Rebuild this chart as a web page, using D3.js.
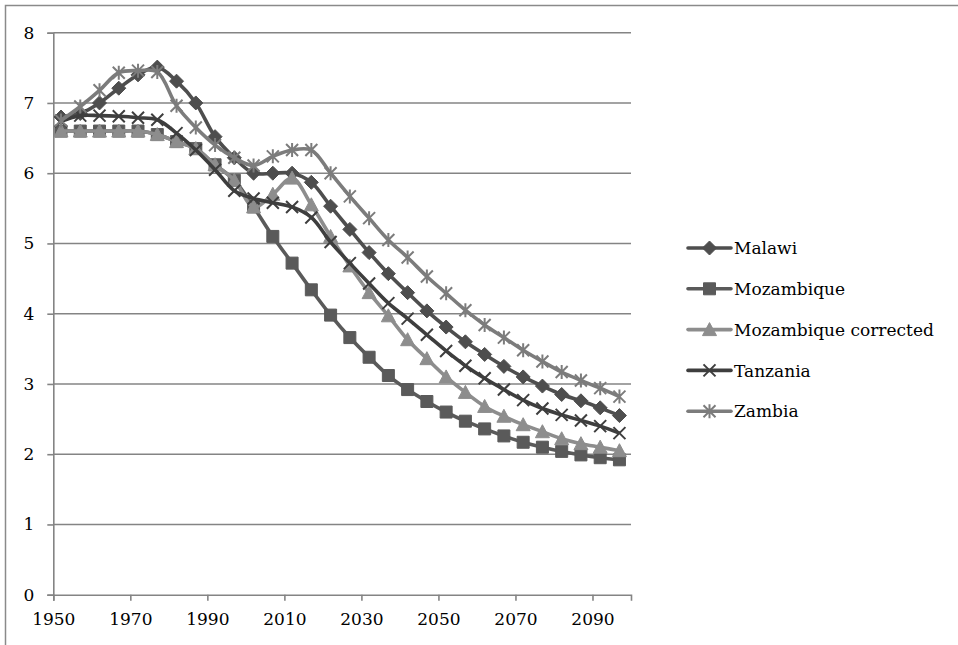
<!DOCTYPE html>
<html>
<head>
<meta charset="utf-8">
<script src="https://cdn.jsdelivr.net/npm/d3@7"></script>
<style>
  html, body { margin: 0; padding: 0; background: #fff; }
  svg { display: block; font-family: "DejaVu Serif", serif; }
</style>
</head>
<body>
<svg id="chart" width="958" height="645"></svg>
<script>
// Total fertility rate, five-year periods (period midpoints)
const years = [1952, 1957, 1962, 1967, 1972, 1977, 1982, 1987, 1992, 1997,
               2002, 2007, 2012, 2017, 2022, 2027, 2032, 2037, 2042, 2047,
               2052, 2057, 2062, 2067, 2072, 2077, 2082, 2087, 2092, 2097];

const malawi = [6.80, 6.85, 7.00, 7.21, 7.40, 7.51, 7.31, 7.00, 6.52, 6.22,
                6.00, 6.00, 6.00, 5.87, 5.53, 5.20, 4.87, 4.57, 4.30, 4.04,
                3.81, 3.60, 3.42, 3.25, 3.10, 2.97, 2.85, 2.76, 2.66, 2.55];

const mozambique = [6.60, 6.60, 6.60, 6.60, 6.60, 6.55, 6.45, 6.35, 6.12, 5.90,
                    5.52, 5.10, 4.72, 4.34, 3.98, 3.66, 3.38, 3.12, 2.92, 2.75,
                    2.60, 2.47, 2.36, 2.26, 2.17, 2.10, 2.04, 1.99, 1.95, 1.92];

const mozambiqueCorrected = [6.60, 6.60, 6.60, 6.60, 6.60, 6.55, 6.45, 6.35, 6.12, 5.90,
                             5.52, 5.70, 5.93, 5.55, 5.10, 4.68, 4.30, 3.97, 3.63, 3.36,
                             3.10, 2.88, 2.68, 2.54, 2.42, 2.32, 2.22, 2.15, 2.10, 2.05];

const tanzania = [6.74, 6.82, 6.82, 6.81, 6.79, 6.76, 6.57, 6.33, 6.05, 5.75,
                  5.64, 5.58, 5.52, 5.37, 5.02, 4.72, 4.43, 4.15, 3.93, 3.70,
                  3.47, 3.26, 3.08, 2.92, 2.77, 2.65, 2.56, 2.48, 2.40, 2.30];

const zambia = [6.75, 6.95, 7.18, 7.43, 7.46, 7.44, 6.96, 6.65, 6.40, 6.22,
                6.11, 6.24, 6.33, 6.33, 6.00, 5.67, 5.36, 5.05, 4.80, 4.53,
                4.29, 4.05, 3.84, 3.66, 3.48, 3.32, 3.17, 3.05, 2.94, 2.82];

const seriesNames = ["Malawi", "Mozambique", "Mozambique corrected", "Tanzania", "Zambia"];
const seriesValues = [malawi, mozambique, mozambiqueCorrected, tanzania, zambia];
const seriesColors = ["#4e4e4e", "#5a5a5a", "#8d8d8d", "#3e3e3e", "#7c7c7c"];
const seriesMarkers = ["diamond", "square", "triangle", "cross", "star"];

const yTicks = [0, 1, 2, 3, 4, 5, 6, 7, 8];
const xTicks = [1950, 1970, 1990, 2010, 2030, 2050, 2070, 2090];

const svg = d3.select("#chart");
const W = 958, H = 645;

svg.append("rect").attr("width", W).attr("height", H).attr("fill", "#fff");

// outer chart frame
svg.append("path")
  .attr("d", "M5.5,650 L5.5,5.5 L965,5.5")
  .attr("fill", "none").attr("stroke", "#8a8a8a").attr("stroke-width", 1.5);

const plot = { left: 53.3, right: 631, top: 32.7, bottom: 594.7 };

const x = d3.scaleLinear().domain([1950, 2100]).range([plot.left, plot.right]);
const y = d3.scaleLinear().domain([0, 8]).range([plot.bottom, plot.top]);

// horizontal gridlines
svg.append("g").selectAll("line")
  .data(yTicks.filter(d => d > 0))
  .join("line")
  .attr("x1", plot.left).attr("x2", plot.right)
  .attr("y1", d => y(d)).attr("y2", d => y(d))
  .attr("stroke", "#848484").attr("stroke-width", 1.6);

// y axis
const yAxis = svg.append("g")
  .attr("transform", `translate(${plot.left},0)`)
  .call(d3.axisLeft(y).tickValues(yTicks).tickSize(6).tickPadding(13).tickFormat(d3.format("d")));
yAxis.select(".domain").attr("stroke", "#848484").attr("stroke-width", 1.6);
yAxis.selectAll(".tick line").attr("stroke", "#848484").attr("stroke-width", 1.6);
yAxis.selectAll(".tick text")
  .attr("fill", "#000").attr("font-size", 17).attr("font-family", "DejaVu Serif, serif");

// x axis
const xAxis = svg.append("g")
  .attr("transform", `translate(0,${plot.bottom})`)
  .call(d3.axisBottom(x).tickValues(xTicks).tickSize(6).tickPadding(12).tickFormat(d3.format("d")));
xAxis.select(".domain").attr("stroke", "#848484").attr("stroke-width", 1.6);
xAxis.selectAll(".tick line").attr("stroke", "#848484").attr("stroke-width", 1.6);
xAxis.selectAll(".tick text")
  .attr("fill", "#000").attr("font-size", 17).attr("font-family", "DejaVu Serif, serif");

// marker shapes
function markerPath(kind) {
  switch (kind) {
    case "diamond": return "M0,-7 L7,0 L0,7 L-7,0 Z";
    case "square": return "M-6,-6 L6,-6 L6,6 L-6,6 Z";
    case "triangle": return "M0,-7 L7,6 L-7,6 Z";
    case "cross": return "M-6,-6 L6,6 M-6,6 L6,-6";
    case "star": return "M-6,-6 L6,6 M-6,6 L6,-6 M0,-7 L0,7";
  }
}
function drawMarker(g, kind, color) {
  const filled = kind === "diamond" || kind === "square" || kind === "triangle";
  g.append("path")
    .attr("d", markerPath(kind))
    .attr("fill", filled ? color : "none")
    .attr("stroke", color)
    .attr("stroke-width", filled ? 1 : 2)
    .attr("stroke-linejoin", "miter");
}

const line = d3.line()
  .x(d => x(d[0]))
  .y(d => y(d[1]))
  .curve(d3.curveCatmullRom.alpha(0.5));

const seriesG = svg.append("g");
seriesValues.forEach((vals, si) => {
  const pts = years.map((yr, i) => [yr, vals[i]]);
  const g = seriesG.append("g");
  g.append("path")
    .attr("d", line(pts))
    .attr("fill", "none")
    .attr("stroke", seriesColors[si])
    .attr("stroke-width", 3.6)
    .attr("stroke-linejoin", "round");
  g.selectAll("g.m").data(pts).join("g")
    .attr("class", "m")
    .attr("transform", d => `translate(${x(d[0])},${y(d[1])})`)
    .each(function () { drawMarker(d3.select(this), seriesMarkers[si], seriesColors[si]); });
});

// legend
const legend = svg.append("g").attr("transform", "translate(688,248)");
seriesNames.forEach((name, si) => {
  const g = legend.append("g").attr("transform", `translate(0,${si * 40.8})`);
  g.append("line")
    .attr("x1", 0).attr("x2", 43).attr("y1", 0).attr("y2", 0)
    .attr("stroke", seriesColors[si]).attr("stroke-width", 3.6).attr("stroke-linecap", "round");
  const m = g.append("g").attr("transform", "translate(21.5,0)");
  drawMarker(m, seriesMarkers[si], seriesColors[si]);
  g.append("text")
    .attr("x", 46).attr("y", 0).attr("dy", "0.36em")
    .attr("font-size", 17).attr("fill", "#000")
    .text(name);
});
</script>
</body>
</html>
